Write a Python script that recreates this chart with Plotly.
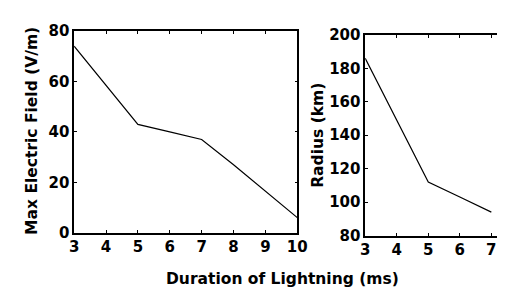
import plotly.graph_objects as go

duration_left = [3, 4, 5, 6, 7, 8, 9, 10]
max_field = [74, 58.5, 43, 40, 37, 27, 16.5, 6]

duration_right = [3, 4, 5, 6, 7]
radius = [186, 149, 112, 103, 94]

W, H = 505, 290
font_family = "DejaVu Sans, Liberation Sans, sans-serif"
tick_font = dict(family=font_family, size=15, color="black", weight="bold")
title_font = dict(family=font_family, size=15.5, color="black", weight="bold")

fig = go.Figure()
fig.add_trace(go.Scatter(x=duration_left, y=max_field, mode="lines",
                         line=dict(color="black", width=1.2), xaxis="x", yaxis="y",
                         showlegend=False))
fig.add_trace(go.Scatter(x=duration_right, y=radius, mode="lines",
                         line=dict(color="black", width=1.2), xaxis="x2", yaxis="y2",
                         showlegend=False))

ax_common = dict(showgrid=False, zeroline=False, showline=True, linecolor="black",
                 linewidth=1.5, mirror="ticks", ticks="inside", ticklen=3,
                 tickcolor="black", tickfont=tick_font)

fig.update_layout(
    width=W, height=H,
    margin=dict(l=0, r=0, t=0, b=0),
    paper_bgcolor="white", plot_bgcolor="white",
    xaxis=dict(domain=[63 / W, 293 / W], range=[3, 10], tickvals=list(range(3, 11)),
               anchor="y", **ax_common),
    yaxis=dict(domain=[60 / H, 275 / H], range=[0, 80], tickvals=[0, 20, 40, 60, 80],
               anchor="x", **ax_common),
    xaxis2=dict(domain=[363 / W, 1.0], range=[3, 7.37], tickvals=[3, 4, 5, 6, 7],
                anchor="y2", **ax_common),
    yaxis2=dict(domain=[57 / H, 271 / H], range=[80, 200],
                tickvals=[80, 100, 120, 140, 160, 180, 200], anchor="x2", **ax_common),
    annotations=[
        dict(text="Duration of Lightning (ms)", x=278 / W, y=1 - 279 / H,
             xref="paper", yref="paper", showarrow=False, font=title_font,
             xanchor="center", yanchor="middle"),
        dict(text="Max Electric Field (V/m)", x=20 / W, y=1 - 121 / H,
             xref="paper", yref="paper", showarrow=False, font=title_font,
             textangle=-90, xanchor="center", yanchor="middle"),
        dict(text="Radius (km)", x=315 / W, y=1 - 126 / H,
             xref="paper", yref="paper", showarrow=False, font=title_font,
             textangle=-90, xanchor="center", yanchor="middle"),
    ],
)

fig.write_html("out.html")
